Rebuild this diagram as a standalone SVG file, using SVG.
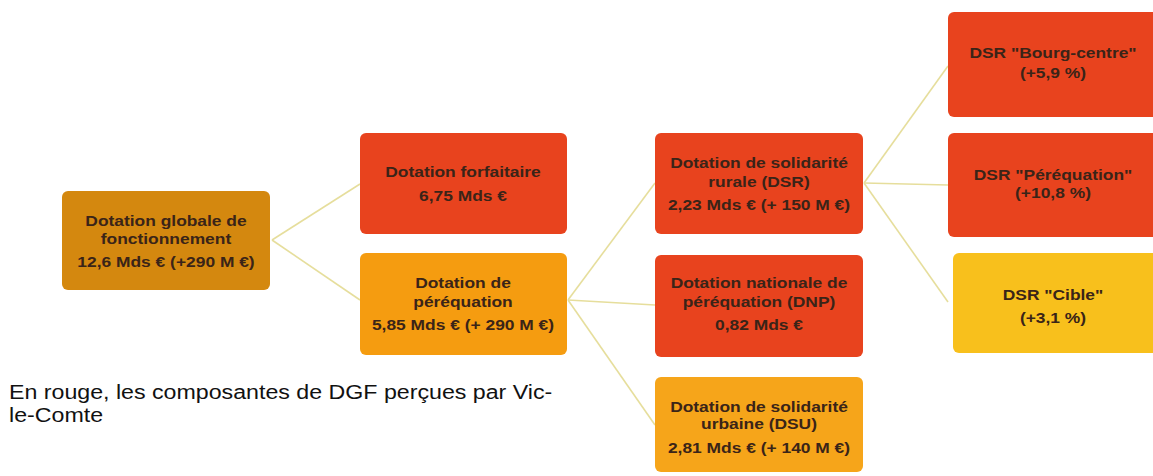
<svg xmlns="http://www.w3.org/2000/svg" width="1153" height="476" viewBox="0 0 1153 476">
<style>
.box{stroke:none}
.red{fill:#E8431E}
.t{font-family:"Liberation Sans",Arial,sans-serif;font-weight:bold;font-size:14.5px;fill:#3a2418;text-anchor:middle}
.cap{font-family:"Liberation Sans",Arial,sans-serif;font-size:20px;fill:#111}
.c{stroke:#E6DE9C;stroke-width:1.6;fill:none}
</style>
<rect width="1153" height="476" fill="#ffffff"/>
<g id="connectors">
<path class="c" d="M272,240 L360,184"/>
<path class="c" d="M272,240 L360,300"/>
<path class="c" d="M568,300 L655,183"/>
<path class="c" d="M568,300 L655,305"/>
<path class="c" d="M568,300 L655,425"/>
<path class="c" d="M864,183 L948,66"/>
<path class="c" d="M864,183 L948,185"/>
<path class="c" d="M864,183 L948,302"/>
</g>
<g id="dgf">
<rect class="box" x="62" y="191" width="208" height="99" rx="6" fill="#D4880F"/>
<text class="t" transform="translate(166 226) scale(1.2 1)">Dotation globale de</text>
<text class="t" transform="translate(166 244) scale(1.2 1)">fonctionnement</text>
<text class="t" transform="translate(166 267) scale(1.2 1)">12,6 Mds € (+290 M €)</text>
</g>
<g id="forfaitaire">
<rect class="box red" x="360" y="133" width="207" height="101" rx="6"/>
<text class="t" transform="translate(463 177) scale(1.2 1)">Dotation forfaitaire</text>
<text class="t" transform="translate(463 201) scale(1.2 1)">6,75 Mds €</text>
</g>
<g id="perequation">
<rect class="box" x="360" y="253" width="207" height="102" rx="6" fill="#F59C10"/>
<text class="t" transform="translate(463 288) scale(1.2 1)">Dotation de</text>
<text class="t" transform="translate(463 307) scale(1.2 1)">péréquation</text>
<text class="t" transform="translate(463 330) scale(1.2 1)">5,85 Mds € (+ 290 M €)</text>
</g>
<g id="dsr">
<rect class="box red" x="655" y="133" width="208" height="101" rx="6"/>
<text class="t" transform="translate(759 168) scale(1.2 1)">Dotation de solidarité</text>
<text class="t" transform="translate(759 187) scale(1.2 1)">rurale (DSR)</text>
<text class="t" transform="translate(759 210) scale(1.2 1)">2,23 Mds € (+ 150 M €)</text>
</g>
<g id="dnp">
<rect class="box red" x="655" y="255" width="208" height="102" rx="6"/>
<text class="t" transform="translate(759 288) scale(1.2 1)">Dotation nationale de</text>
<text class="t" transform="translate(759 307) scale(1.2 1)">péréquation (DNP)</text>
<text class="t" transform="translate(759 330) scale(1.2 1)">0,82 Mds €</text>
</g>
<g id="dsu">
<rect class="box" x="655" y="377" width="208" height="95" rx="6" fill="#F6A51A"/>
<text class="t" transform="translate(759 412) scale(1.2 1)">Dotation de solidarité</text>
<text class="t" transform="translate(759 429) scale(1.2 1)">urbaine (DSU)</text>
<text class="t" transform="translate(759 453) scale(1.2 1)">2,81 Mds € (+ 140 M €)</text>
</g>
<g id="bourg-centre">
<rect class="box red" x="948" y="12" width="215" height="105" rx="6"/>
<text class="t" transform="translate(1053 58) scale(1.2 1)">DSR "Bourg-centre"</text>
<text class="t" transform="translate(1053 78) scale(1.2 1)">(+5,9 %)</text>
</g>
<g id="dsr-perequation">
<rect class="box red" x="948" y="133" width="215" height="104" rx="6"/>
<text class="t" transform="translate(1053 180) scale(1.2 1)">DSR "Péréquation"</text>
<text class="t" transform="translate(1053 198) scale(1.2 1)">(+10,8 %)</text>
</g>
<g id="cible">
<rect class="box" x="953" y="253" width="210" height="100" rx="6" fill="#F8C01C"/>
<text class="t" transform="translate(1053 300) scale(1.2 1)">DSR "Cible"</text>
<text class="t" transform="translate(1053 323) scale(1.2 1)">(+3,1 %)</text>
</g>
<g id="caption">
<text class="cap" transform="translate(9 399) scale(1.16 1)">En rouge, les composantes de DGF perçues par Vic-</text>
<text class="cap" transform="translate(9 422) scale(1.16 1)">le-Comte</text>
</g>
</svg>
